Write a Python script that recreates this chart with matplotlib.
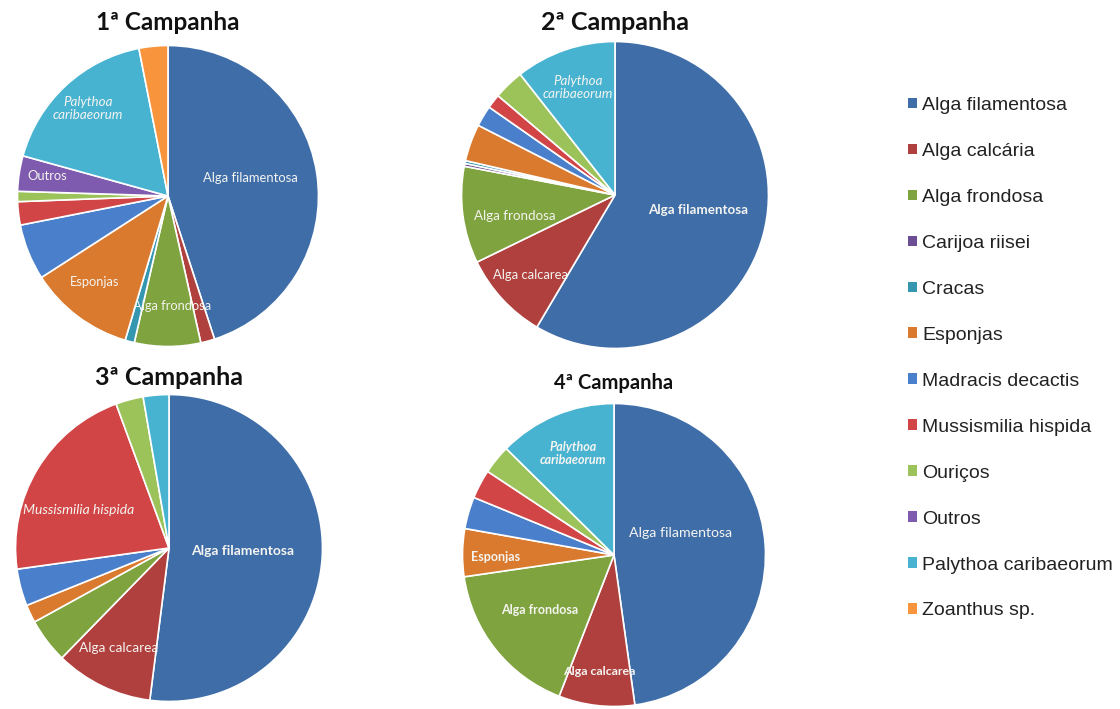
import matplotlib
matplotlib.use("Agg")
import matplotlib.pyplot as plt
from matplotlib.patches import Patch

# Benthic cover categories (legend order)
categories = [
    "Alga filamentosa", "Alga calcária", "Alga frondosa", "Carijoa riisei",
    "Cracas", "Esponjas", "Madracis decactis", "Mussismilia hispida",
    "Ouriços", "Outros", "Palythoa caribaeorum", "Zoanthus sp.",
]
colors = [
    "#3F6DA8", "#B0403E", "#7FA33E", "#6B4E93",
    "#3596B0", "#DA7A2E", "#4A7FCB", "#D24546",
    "#9BC35A", "#7E5BAF", "#47B3D1", "#F7943C",
]

# Percent cover per campaign (same order as categories)
campanha_1 = [45.0, 1.5, 7.1, 0.0, 1.0, 11.3, 6.0, 2.5, 1.1, 3.8, 17.6, 3.1]
campanha_2 = [58.5, 9.3, 10.2, 0.3, 0.3, 3.9, 2.2, 1.5, 3.2, 0.0, 10.6, 0.0]
campanha_3 = [52.0, 10.3, 4.7, 0.0, 0.0, 1.9, 3.9, 21.6, 2.9, 0.0, 2.7, 0.0]
campanha_4 = [47.8, 8.1, 16.8, 0.0, 0.0, 5.1, 3.4, 3.1, 3.1, 0.0, 12.6, 0.0]

titles = ["1ª Campanha", "2ª Campanha", "3ª Campanha", "4ª Campanha"]

W, H = 1120, 709
fig = plt.figure(figsize=(W / 100, H / 100), dpi=100)
fig.patch.set_facecolor("white")

LABEL_FONT = "Lato"
LEGEND_FONT = "Liberation Sans"
txt = "#F4F4F0"

# (center x, center y, radius) in pixels, title y, title size
layout = [
    (168, 196, 152, 22, 17.5),
    (615, 195, 155, 22, 18.0),
    (169, 548, 155, 378, 18.0),
    (614, 555, 153, 383, 14.5),
]

# in-slice labels: (x, y, size, weight, style, text)
slice_labels = [
    [(0.546, 0.12, 9.4, "normal", "normal", "Alga filamentosa"),
     (0.03, -0.73, 9.3, "normal", "normal", "Alga frondosa"),
     (-0.49, -0.57, 9.3, "normal", "normal", "Esponjas"),
     (-0.80, 0.13, 9.3, "normal", "normal", "Outros"),
     (-0.53, 0.58, 9.6, "normal", "italic", "Palythoa\ncaribaeorum")],
    [(0.54, -0.10, 9.6, "bold", "normal", "Alga filamentosa"),
     (-0.55, -0.52, 9.4, "normal", "normal", "Alga calcarea"),
     (-0.65, -0.135, 9.6, "normal", "normal", "Alga frondosa"),
     (-0.24, 0.70, 9.6, "normal", "italic", "Palythoa\ncaribaeorum")],
    [(0.48, -0.02, 10.0, "bold", "normal", "Alga filamentosa"),
     (-0.33, -0.65, 9.8, "normal", "normal", "Alga calcarea"),
     (-0.59, 0.245, 10.0, "normal", "italic", "Mussismilia hispida")],
    [(0.44, 0.145, 10.2, "normal", "normal", "Alga filamentosa"),
     (-0.10, -0.77, 8.9, "bold", "normal", "Alga calcarea"),
     (-0.49, -0.36, 9.0, "bold", "normal", "Alga frondosa"),
     (-0.78, -0.01, 9.0, "bold", "normal", "Esponjas"),
     (-0.27, 0.67, 9.0, "bold", "italic", "Palythoa\ncaribaeorum")],
]

series = [campanha_1, campanha_2, campanha_3, campanha_4]

for values, title, (cx, cy, r, ty, ts), labels in zip(series, titles, layout, slice_labels):
    ax = fig.add_axes([(cx - r) / W, 1 - (cy + r) / H, 2 * r / W, 2 * r / H])
    vals = [v for v in values if v > 0]
    cols = [c for v, c in zip(values, colors) if v > 0]
    ax.pie(vals, colors=cols, startangle=90, counterclock=False, radius=1,
           wedgeprops=dict(edgecolor="white", linewidth=1.2))
    ax.set_xlim(-1.01, 1.01)
    ax.set_ylim(-1.01, 1.01)
    ax.set_aspect("equal")
    ax.axis("off")
    for x, y, s_pt, w, st, s in labels:
        ax.text(x, y, s, ha="center", va="center", color=txt, fontsize=s_pt,
                fontweight=w, fontstyle=st, family=LABEL_FONT, linespacing=1.1)
    fig.text(cx / W, 1 - ty / H, title, ha="center", va="center",
             fontsize=ts, fontweight="bold", family=LABEL_FONT, color="#111111")

handles = [Patch(facecolor=c, edgecolor="none") for c in colors]
leg = fig.legend(handles, categories, loc="upper left",
                 bbox_to_anchor=(900 / W, 1 - 89 / H), frameon=False,
                 handlelength=0.45, handleheight=0.45, handletextpad=0.3,
                 labelspacing=1.49, borderaxespad=0,
                 prop=dict(family=LEGEND_FONT, size=14))
for t in leg.get_texts():
    t.set_color("#222222")

fig.savefig("out.png", dpi=100, facecolor="white")
